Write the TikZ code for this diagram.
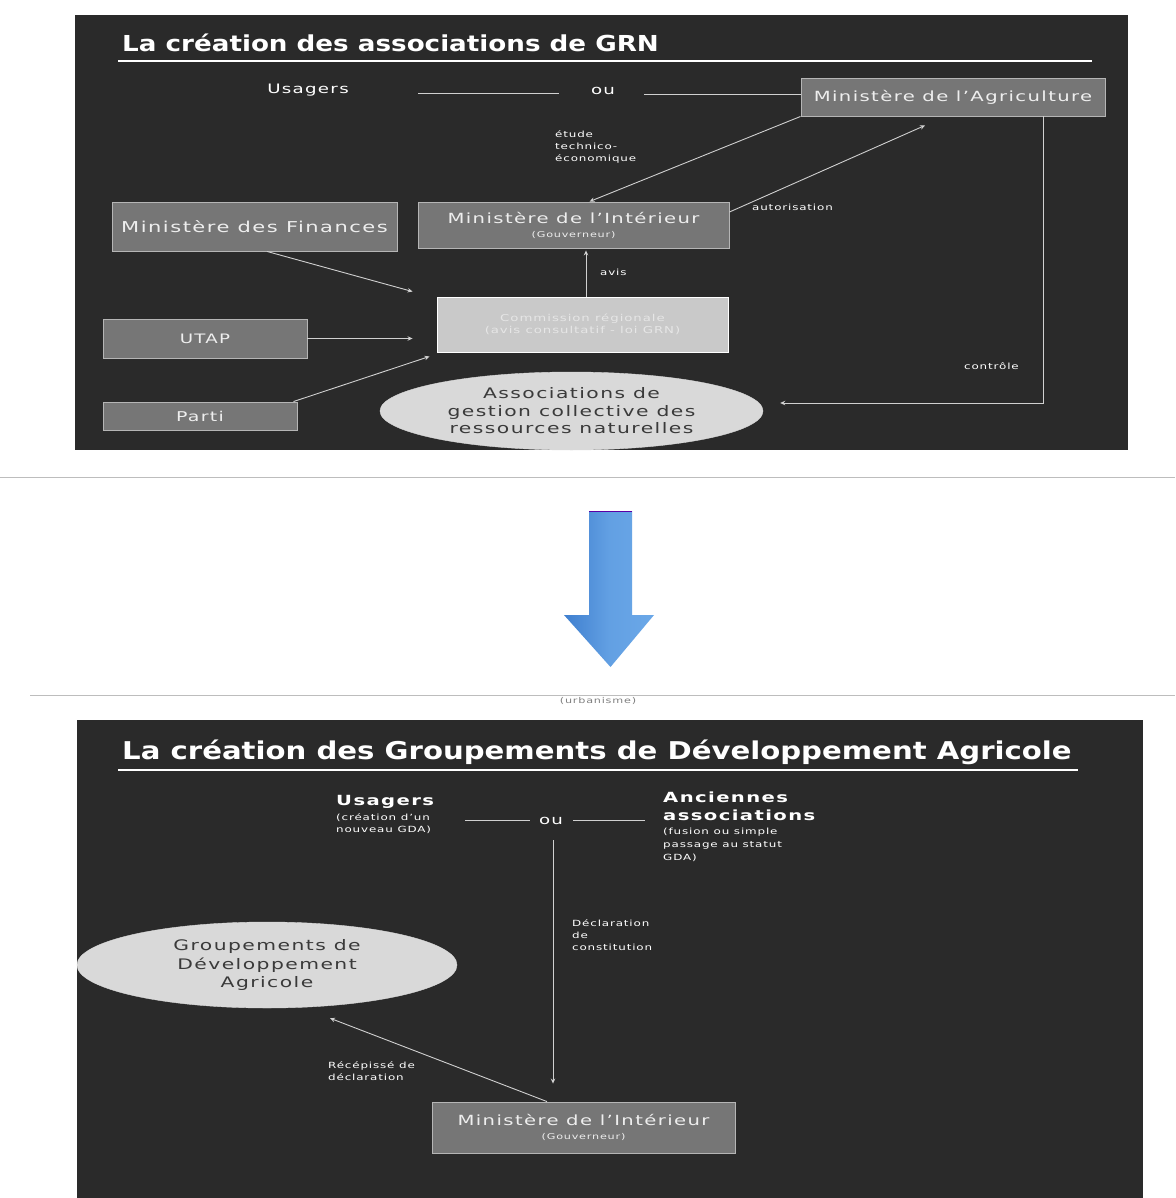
\documentclass[tikz,border=0pt]{standalone}
\usepackage{fontspec}
\setmainfont[FakeStretch=1.4,LetterSpace=10]{DejaVu Sans}
\newfontfamily\titlef[FakeStretch=1.19]{DejaVu Sans}
\usetikzlibrary{arrows.meta,shapes.geometric}
\definecolor{panel}{HTML}{2A2A2A}
\definecolor{boxfill}{HTML}{767676}
\definecolor{boxline}{HTML}{B5B5B5}
\definecolor{boxtext}{HTML}{EEEEEE}
\definecolor{lightbox}{HTML}{C9C9C9}
\definecolor{lighttext}{HTML}{E6E6E6}
\definecolor{ellfill}{HTML}{D9D9D9}
\definecolor{elltext}{HTML}{3A3A3A}
\definecolor{linec}{HTML}{D0D0D0}
\definecolor{sepc}{HTML}{BDBDBD}
\definecolor{bluea}{HTML}{3F7FCF}
\definecolor{blueb}{HTML}{6BA8E8}
\tikzset{
  box/.style={draw=boxline, line width=0.9pt, fill=boxfill, text=boxtext, inner sep=0pt, align=center},
  lbox/.style={draw=white, line width=0.9pt, fill=lightbox, text=lighttext, inner sep=0pt, align=center},
  ell/.style={ellipse, draw=ellfill, fill=ellfill, text=elltext, inner sep=0pt, align=center},
  wtext/.style={text=white, inner sep=0pt},
  small/.style={text=white, inner sep=0pt, align=left, font=\fontsize{8.5}{12}\selectfont},
  conn/.style={draw=linec, line width=0.9pt, -{Stealth[length=5pt,width=4.5pt]}},
  plain/.style={draw=linec, line width=0.9pt},
  ttl/.style={text=white, inner sep=0pt, anchor=west},
}
\begin{document}
\begin{tikzpicture}[x=1pt,y=-1pt]
\useasboundingbox (0,0) rectangle (1175,1198);
\fill[white] (0,0) rectangle (1175,1198);
% panels
\fill[panel] (75,15) rectangle (1128,450);
\fill[panel] (77,720) rectangle (1143,1198);
\draw[sepc, line width=0.6pt] (0,477) -- (1175,477);
\draw[sepc, line width=0.6pt] (30,695) -- (1175,695);

% ---------- top panel ----------
\node[ttl, font=\titlef\bfseries\fontsize{22}{24}\selectfont] (t1) at (122,43) {La création des associations de GRN};
\draw[white, line width=1.3pt] (118,61) -- (1092,61);

\node[wtext, font=\fontsize{13}{15}\selectfont] (us1) at (308,90) {Usagers};
\node[wtext, font=\fontsize{13}{15}\selectfont] (ou1) at (603,91) {ou};
\node[box, minimum width=304pt, minimum height=38pt, font=\fontsize{14}{16}\selectfont] (agri) at (953,97) {Ministère de l'Agriculture};
\coordinate (l1a) at (418,93);
\coordinate (l1b) at (559,93);
\coordinate (l2a) at (644,94);
\draw[plain] (l1a) -- (l1b);
\draw[plain] (l2a) -- (agri.west |- l2a);

\node[small, anchor=north west] (etude) at (555,131) {étude\\technico-\\économique};

\node[box, minimum width=311pt, minimum height=46pt, font=\fontsize{14}{17}\selectfont] (int1) at (573.5,225) {Ministère de l'Intérieur\\[-3pt]{\fontsize{8}{9}\selectfont (Gouverneur)}};
\node[box, minimum width=285pt, minimum height=49pt, font=\fontsize{15}{17}\selectfont] (fin) at (254.5,226.5) {Ministère des Finances};
\node[lbox, minimum width=291pt, minimum height=55pt, font=\fontsize{9.5}{12.5}\selectfont] (comm) at (582.5,324.5) {Commission régionale\\(avis consultatif - loi GRN)};
\node[box, minimum width=204pt, minimum height=39pt, font=\fontsize{13}{15}\selectfont] (utap) at (205,338.5) {UTAP};
\node[box, minimum width=194pt, minimum height=28pt, font=\fontsize{13.5}{15}\selectfont] (parti) at (200,416) {Parti};
\node[ell, minimum width=383pt, minimum height=78pt, font=\fontsize{14.5}{17.5}\selectfont] (grn) at (571.5,411) {Associations de\\gestion collective des\\ressources naturelles};

\node[small, anchor=west] (autor) at (752,207) {autorisation};
\node[small, anchor=west] (avis) at (600,272) {avis};
\node[small, anchor=west] (ctrl) at (964,366) {contrôle};

% connectors top
\draw[conn] (agri.south west) -- ([xshift=16pt]int1.north);
\draw[conn] ([yshift=13pt]int1.east) -- ([xshift=-28pt,yshift=-9pt]agri.south);
\draw[conn] ([xshift=3.5pt]comm.north) -- ([xshift=3.5pt,yshift=-2pt]comm.north |- int1.south);
\draw[conn] ([xshift=12.5pt]fin.south) -- ([xshift=-24pt,yshift=5pt]comm.north west);
\draw[conn] (utap.east) -- ([xshift=-24pt]comm.west |- utap.east);
\draw[conn] ([xshift=-4pt]parti.north east) -- ([xshift=-7pt,yshift=-4pt]comm.south west);
\coordinate (corner) at (1043,403);
\draw[conn] ([xshift=90pt]agri.south) -- (corner) -- ([xshift=17pt,yshift=8pt]grn.east);

% ---------- big arrow ----------
\shade[left color=bluea, right color=blueb, middle color=blueb!80!bluea]
  (589,511) -- (632,511) -- (632,615) -- (654,615) -- (610.5,667) -- (564,615) -- (589,615) -- cycle;
\draw[violet!70!blue, line width=1pt] (589,511) -- (632,511);
\node[text=gray, inner sep=0pt, font=\fontsize{8}{9}\selectfont] (urb) at (598,701) {(urbanisme)};

% ---------- bottom panel ----------
\node[ttl, font=\titlef\bfseries\fontsize{24.5}{26}\selectfont] (t2) at (122,752) {La création des Groupements de Développement Agricole};
\draw[white, line width=1.3pt] (118,770) -- (1078,770);

\node[wtext, anchor=north west, font=\bfseries\fontsize{14}{16}\selectfont] (us2) at (336,795) {Usagers};
\node[small, anchor=north west, align=left] (us2s) at (336,813) {(création d'un\\nouveau GDA)};
\node[wtext, font=\fontsize{13}{15}\selectfont] (ou2) at (551,821) {ou};
\node[wtext, anchor=north west, align=left, font=\bfseries\fontsize{14}{18}\selectfont] (anc) at (663,792) {Anciennes\\associations};
\node[small, anchor=north west, align=left, font=\fontsize{8.5}{13}\selectfont] (ancs) at (663,828) {(fusion ou simple\\passage au statut\\GDA)};
\coordinate (l3a) at (465,820);
\draw[plain] (l3a) -- ([xshift=-9pt]ou2.west |- l3a);
\draw[plain] ([xshift=10pt]ou2.east |- l3a) -- ([xshift=-18pt]anc.west |- l3a);

\node[ell, minimum width=380pt, minimum height=86pt, font=\fontsize{14.5}{18.5}\selectfont] (gda) at (267,965) {Groupements de\\Développement\\Agricole};
\node[box, minimum width=303pt, minimum height=51pt, font=\fontsize{14}{17}\selectfont] (int2) at (583.5,1127.5) {Ministère de l'Intérieur\\[-3pt]{\fontsize{8}{9}\selectfont (Gouverneur)}};

\node[small, anchor=north west] (decl) at (572,919) {Déclaration\\de\\constitution};
\node[small, anchor=north west] (rec) at (328,1061) {Récépissé de\\déclaration};

\coordinate (vtop) at (553,840);
\draw[conn] (vtop) -- ([yshift=18pt]vtop |- int2.north);
\draw[conn] ([xshift=-36.5pt]int2.north) -- ([xshift=63pt,yshift=-10pt]gda.south);
\end{tikzpicture}
\end{document}
